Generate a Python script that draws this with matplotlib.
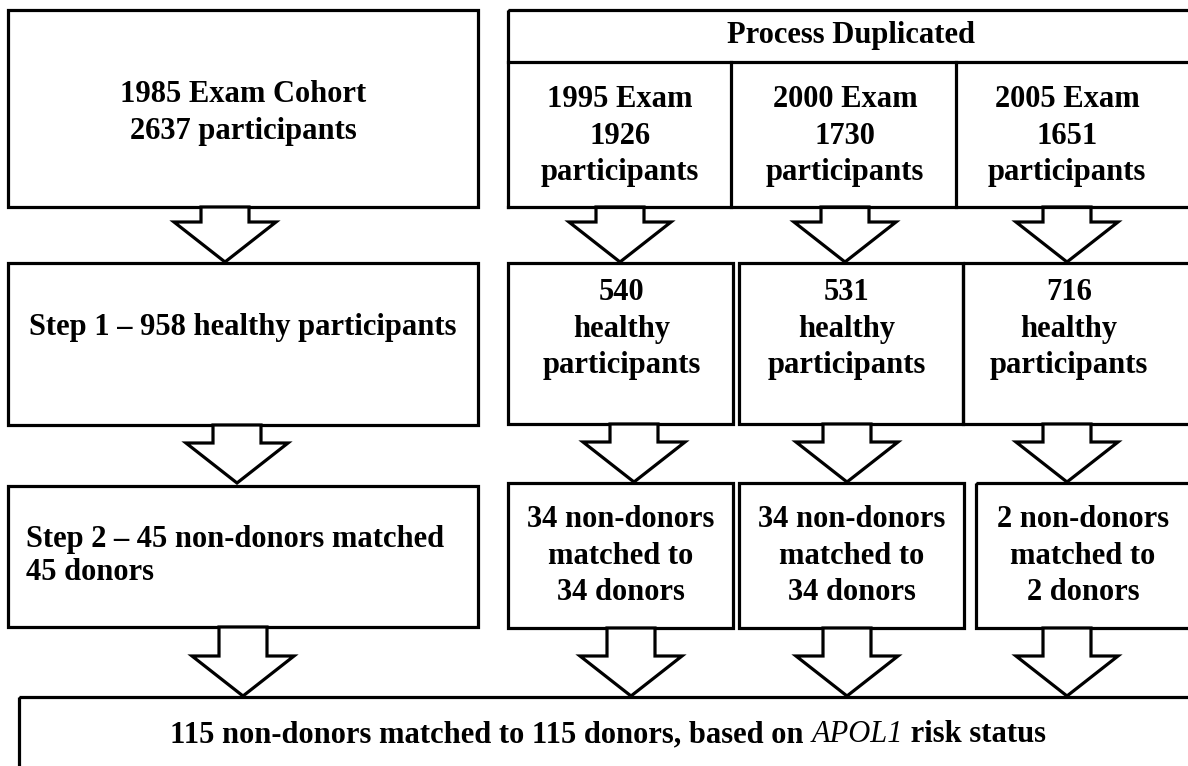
import matplotlib
matplotlib.use("Agg")
import matplotlib.pyplot as plt
from matplotlib.patches import Rectangle, Polygon

plt.rcParams['font.family'] = ['Liberation Serif', 'DejaVu Serif']

# flow data
base_year = 1985
base_n = 2637
base_healthy = 958
base_matched = 45
years = [1995, 2000, 2005]
exam_n = [1926, 1730, 1651]
healthy_n = [540, 531, 716]
matched_n = [34, 34, 2]
total_matched = base_matched + sum(matched_n)
gene = "APOL1"

W, H = 1188, 766
fig = plt.figure(figsize=(W / 100, H / 100), dpi=100)
ax = fig.add_axes([0, 0, 1, 1])
ax.set_xlim(0, W)
ax.set_ylim(H, 0)
ax.axis('off')

LW = 2.3
FS = 22


def box(x0, y0, x1, y1):
    ax.add_patch(Rectangle((x0, y0), x1 - x0, y1 - y0, fill=False,
                           edgecolor='black', lw=LW, joinstyle='miter'))


def arrow(cx, y0, y1, shaft=48, head=102, head_h=40):
    pts = [(cx - shaft / 2, y0), (cx - shaft / 2, y1 - head_h),
           (cx - head / 2, y1 - head_h), (cx, y1),
           (cx + head / 2, y1 - head_h), (cx + shaft / 2, y1 - head_h),
           (cx + shaft / 2, y0)]
    ax.add_patch(Polygon(pts, closed=True, facecolor='white',
                         edgecolor='black', lw=LW, joinstyle='miter'))


def label(x, y, s, ha='center', ls=1.36):
    ax.text(x, y, s, ha=ha, va='center', fontsize=FS, fontweight='bold',
            linespacing=ls, multialignment=ha)


# left column
box(8, 10, 478, 207)
label(243, 113, f"{base_year} Exam Cohort\n{base_n} participants")
arrow(225, 207, 262)
box(8, 263, 478, 425)
label(243, 328, f"Step 1 \u2013 {base_healthy} healthy participants")
arrow(237, 425, 483)
box(8, 486, 478, 627)
label(26, 556, f"Step 2 \u2013 {base_matched} non-donors matched\n"
               f"{base_matched} donors", ha='left', ls=1.17)

# right: process duplicated
box(508, 10, 1200, 62)
label(851, 35, "Process Duplicated")
ax.plot([508, 1200], [207, 207], color='black', lw=LW)
ax.plot([508, 508], [62, 207], color='black', lw=LW)
col_div = [731, 956]
for xd in col_div:
    ax.plot([xd, xd], [62, 207], color='black', lw=LW)

col_cx = [620, 845, 1067]
for cx, yr, n in zip(col_cx, years, exam_n):
    label(cx, 136, f"{yr} Exam\n{n}\nparticipants")
    arrow(cx, 207, 262)

row2 = [(508, 733), (739, 963), (963, 1200)]
for (x0, x1), cx, n in zip(row2, col_cx, healthy_n):
    box(x0, 263, x1, 424)
    label(cx + 2, 329, f"{n}\nhealthy\nparticipants")

row3 = [(508, 733), (739, 964), (976, 1200)]
arrow_cx3 = [634, 847, 1067]
for (x0, x1), cx, n in zip(row3, arrow_cx3, matched_n):
    arrow(cx, 424, 482)
    box(x0, 483, x1, 628)
    label((x0 + x1) / 2 if x1 < 1190 else 1083, 556,
          f"{n} non-donors\nmatched to\n{n} donors")
    arrow(cx - 3 if cx < 700 else cx, 628, 696)

arrow(243, 627, 696)

# bottom box, with the gene name in italics
box(19, 697, 1210, 780)
parts = [(f"{total_matched} non-donors matched to {total_matched} donors, based on ", 'bold', 'normal'),
         (gene, 'normal', 'italic'),
         (" risk status", 'bold', 'normal')]
r = fig.canvas.get_renderer()
texts = []
for s, w, st in parts:
    t = ax.text(0, 735, s, ha='left', va='center', fontsize=FS,
                fontweight=w, fontstyle=st)
    texts.append(t)
widths = [t.get_window_extent(r).width for t in texts]
x = 608 - sum(widths) / 2
for t, wd in zip(texts, widths):
    t.set_x(x)
    x += wd

fig.savefig("out.png", dpi=100)
